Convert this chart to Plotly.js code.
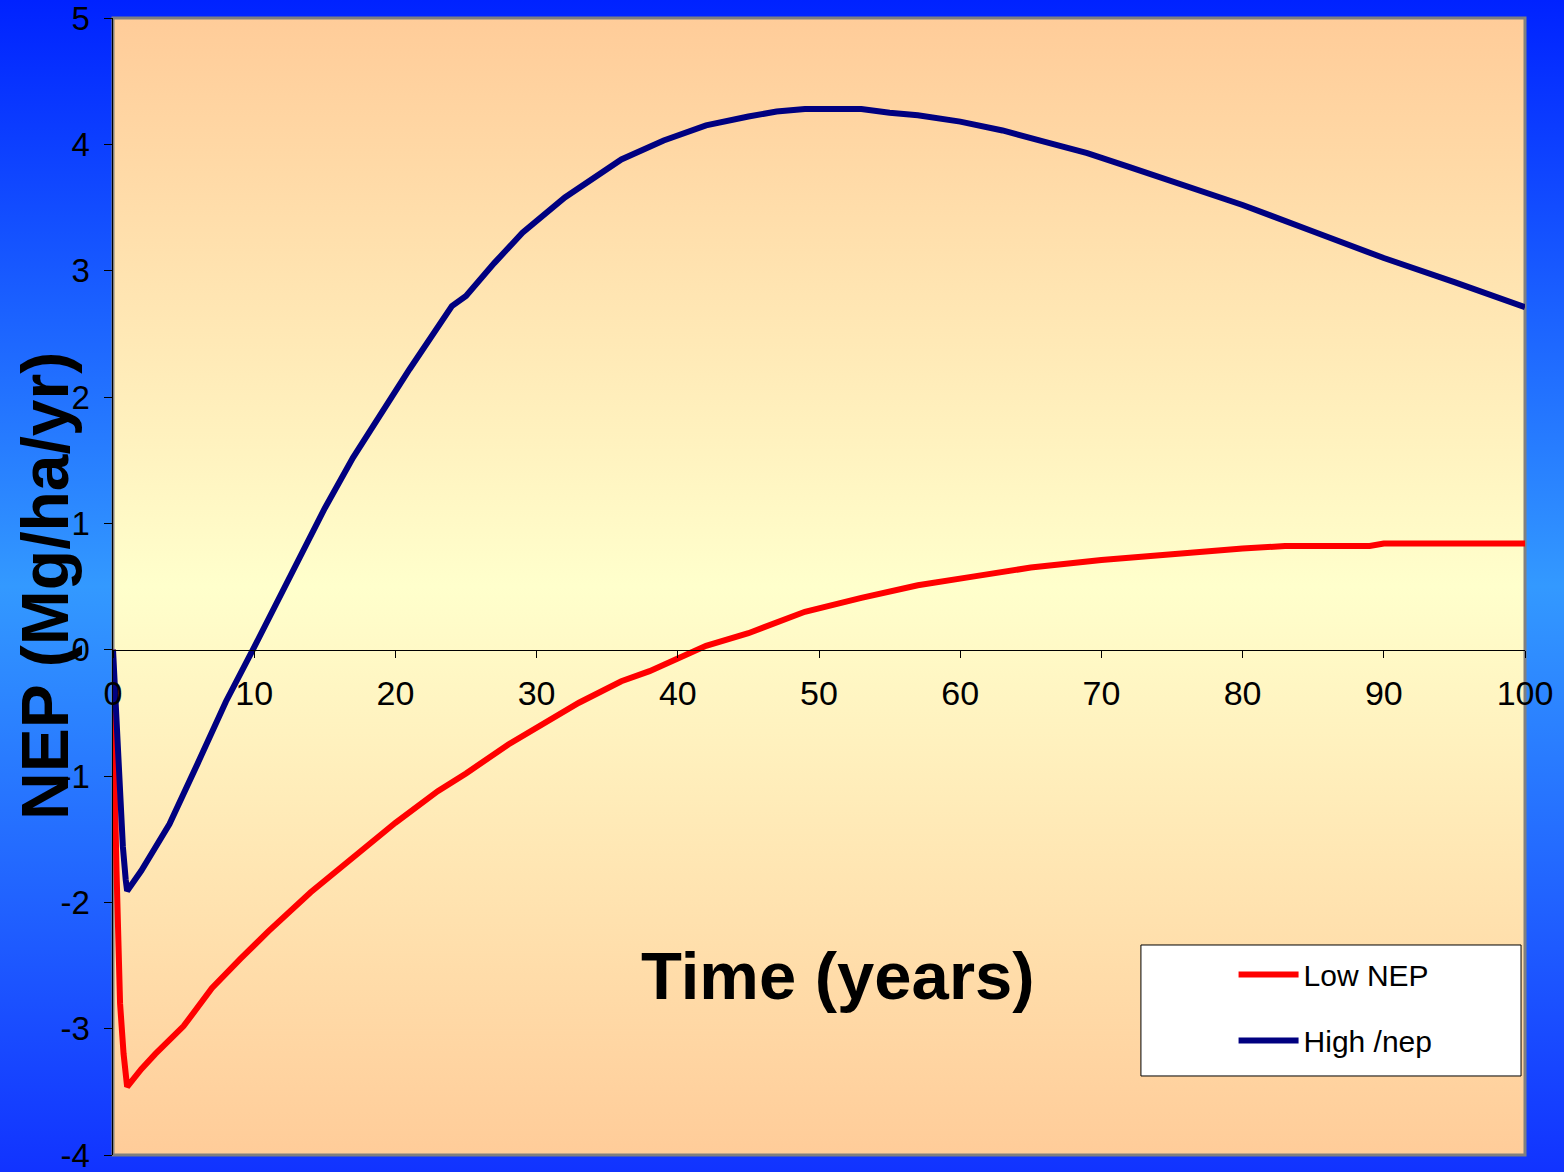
<!DOCTYPE html>
<html>
<head>
<meta charset="utf-8">
<script src="https://cdn.plot.ly/plotly-3.0.1.min.js"></script>
<style>
  html, body { margin: 0; padding: 0; }
  body { width: 1564px; height: 1172px; overflow: hidden;
         background: linear-gradient(to bottom, #0022ff 0%, #3399ff 50%, #1133ff 100%); }
  #chart { width: 1564px; height: 1172px; }
</style>
</head>
<body>
<div id="chart"></div>
<script>
// ---- data ----
const highYears = [0, 0.25, 0.6, 0.7, 0.9, 1, 2, 4, 6, 8, 10, 12, 15, 17, 19, 21, 24, 25, 27, 29, 32, 36, 39, 42, 45, 47, 49, 53, 55, 57, 60, 63, 66, 69, 72, 76, 80, 85, 90, 95, 100];
const highNEP   = [0, -0.58, -1.24, -1.56, -1.82, -1.91, -1.75, -1.38, -0.9, -0.41, 0.02, 0.47, 1.12, 1.52, 1.87, 2.22, 2.72, 2.80, 3.06, 3.30, 3.58, 3.88, 4.03, 4.15, 4.22, 4.26, 4.28, 4.28, 4.25, 4.23, 4.18, 4.11, 4.02, 3.93, 3.82, 3.67, 3.52, 3.31, 3.10, 2.91, 2.71];

const lowYears = [0, 0.05, 0.25, 0.5, 0.75, 1, 2, 3, 5, 7, 9, 11, 14, 17, 20, 23, 25, 28, 30, 33, 36, 38, 40, 42, 45, 49, 53, 57, 61, 65, 70, 73, 77, 80, 83, 89, 90, 100];
const lowNEP   = [0, -0.7, -1.75, -2.8, -3.2, -3.46, -3.32, -3.20, -2.98, -2.68, -2.45, -2.23, -1.92, -1.64, -1.37, -1.12, -0.98, -0.75, -0.62, -0.42, -0.25, -0.17, -0.07, 0.03, 0.13, 0.30, 0.41, 0.51, 0.58, 0.65, 0.71, 0.74, 0.78, 0.80, 0.82, 0.82, 0.84, 0.84];

const seriesNames = ["Low NEP", "High /nep"];
const xTitle = "Time (years)";
const yTitle = "NEP (Mg/ha/yr)";
const xTicks = [0, 10, 20, 30, 40, 50, 60, 70, 80, 90, 100];
const yTicks = [-4, -3, -2, -1, 0, 1, 2, 3, 4, 5];

const FONT = "Liberation Sans, Arial, sans-serif";

const traces = [
  { x: lowYears, y: lowNEP, name: seriesNames[0], type: "scatter", mode: "lines",
    line: { color: "#ff0000", width: 6 }, legendgroup: "a" },
  { x: highYears, y: highNEP, name: seriesNames[1], type: "scatter", mode: "lines",
    line: { color: "#000080", width: 6 }, legendgroup: "b" }
];

const bgSvg = '<svg xmlns="http://www.w3.org/2000/svg" width="100" height="100" preserveAspectRatio="none">' +
  '<defs><linearGradient id="g" x1="0" y1="0" x2="0" y2="1">' +
  '<stop offset="0" stop-color="#ffcc99"/><stop offset="0.5" stop-color="#ffffcc"/><stop offset="1" stop-color="#ffcc99"/>' +
  '</linearGradient></defs><rect width="100" height="100" fill="url(#g)"/></svg>';

const layout = {
  width: 1564, height: 1172,
  margin: { l: 113, r: 39, t: 18, b: 17 },
  paper_bgcolor: "rgba(0,0,0,0)",
  plot_bgcolor: "rgba(0,0,0,0)",
  font: { family: FONT, size: 34, color: "#000000" },
  showlegend: true,
  xaxis: {
    range: [0, 100], tickvals: xTicks, ticktext: xTicks.map(String),
    anchor: "free", position: 4 / 9,
    showline: true, linecolor: "#000000", linewidth: 1,
    ticks: "outside", ticklen: 7, tickcolor: "#000000", tickwidth: 1,
    ticklabelstandoff: 7, ticklabeloverflow: "allow",
    showgrid: false, zeroline: false,
    tickfont: { family: FONT, size: 34, color: "#000000" }
  },
  yaxis: {
    range: [-4, 5], tickvals: yTicks, ticktext: yTicks.map(String),
    showline: true, linecolor: "#000000", linewidth: 1.5,
    ticks: "outside", ticklen: 8, tickcolor: "#000000", tickwidth: 1,
    ticklabelstandoff: 7, ticklabeloverflow: "allow",
    showgrid: false, zeroline: false,
    tickfont: { family: FONT, size: 33, color: "#000000" }
  },
  images: [{
    source: "data:image/svg+xml;charset=utf-8," + encodeURIComponent(bgSvg),
    xref: "paper", yref: "paper", x: 0, y: 1, sizex: 1, sizey: 1,
    xanchor: "left", yanchor: "top", sizing: "stretch", layer: "below"
  }],
  shapes: [
    { type: "rect", xref: "paper", yref: "paper", x0: 0, x1: 1, y0: 0, y1: 1,
      line: { color: "#808080", width: 3 }, layer: "below" },
    { type: "rect", xref: "paper", yref: "paper", x0: 0.728, x1: 0.9972, y0: 0.0695, y1: 0.1847,
      fillcolor: "#ffffff", line: { color: "#000000", width: 1 }, layer: "below" }
  ],
  annotations: [
    { text: "<b>" + xTitle + "</b>", xref: "paper", yref: "paper", x: 0.5134, y: 0.1583,
      xanchor: "center", yanchor: "middle", showarrow: false,
      font: { family: FONT, size: 67, color: "#000000" } },
    { text: "<b>" + yTitle + "</b>", xref: "paper", yref: "paper", x: -0.0482, y: 0.5004,
      xanchor: "center", yanchor: "middle", showarrow: false, textangle: -90,
      font: { family: FONT, size: 66, color: "#000000" } }
  ],
  legend: {
    x: 0.7936, y: 0.1817, xanchor: "left", yanchor: "top",
    bgcolor: "rgba(0,0,0,0)", borderwidth: 0,
    traceorder: "grouped", tracegroupgap: 24, itemwidth: 60,
    font: { family: FONT, size: 30, color: "#000000" }
  }
};

Plotly.newPlot("chart", traces, layout, { displayModeBar: false, staticPlot: true });
</script>
</body>
</html>
